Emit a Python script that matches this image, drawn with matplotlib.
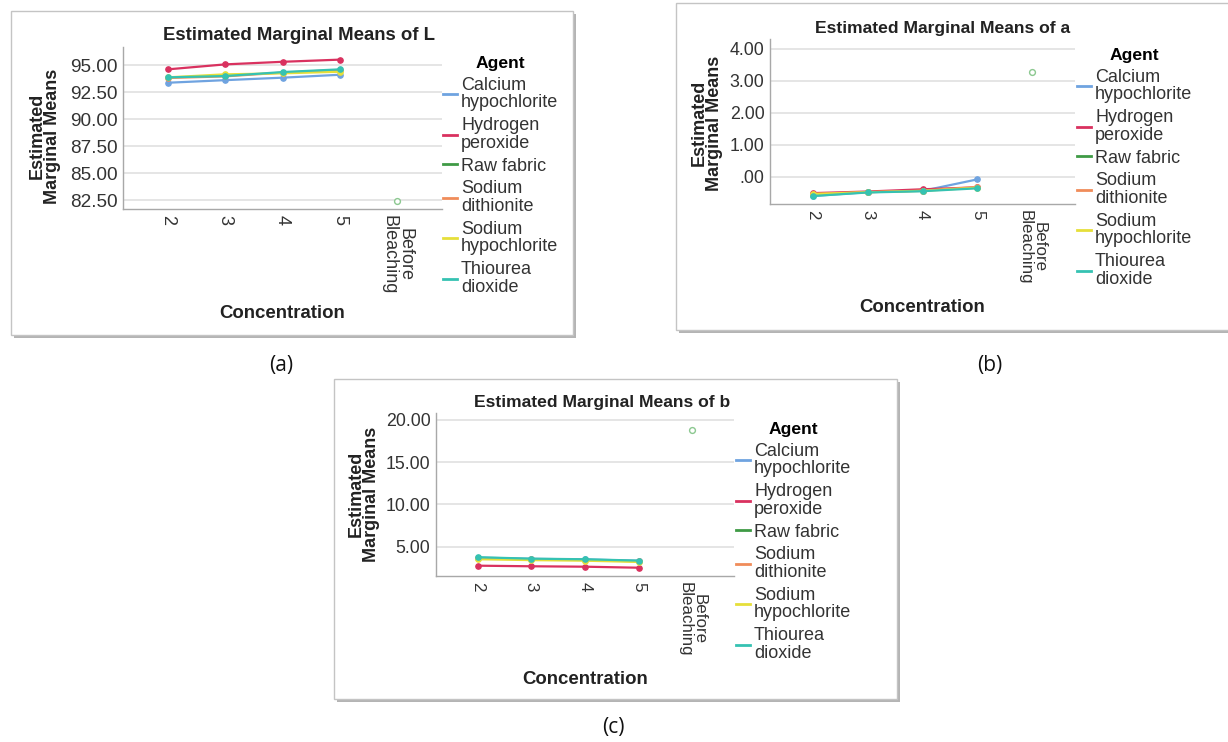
import numpy as np
import matplotlib

matplotlib.use("Agg")
import matplotlib.pyplot as plt
from matplotlib.patches import Rectangle

plt.rcParams["font.family"] = ["Liberation Sans", "DejaVu Sans"]

W, H = 1228, 742
nan = np.nan

# ── Data ─────────────────────────────────────────────────────────────────────

categories = ["2", "3", "4", "5", "Before\nBleaching"]
agents = [
    "Calcium\nhypochlorite",
    "Hydrogen\nperoxide",
    "Raw fabric",
    "Sodium\ndithionite",
    "Sodium\nhypochlorite",
    "Thiourea\ndioxide",
]
agent_colors = ["#6fa3e0", "#d9315f", "#3f9a45", "#f08c5a", "#e6df3a", "#35c2b2"]

# L*
L_calcium = [93.36, 93.60, 93.83, 94.10, nan]
L_hydrogen = [94.60, 95.06, 95.30, 95.50, nan]
L_raw = [nan, nan, nan, nan, 82.40]
L_dithionite = [93.80, 93.95, 94.30, 94.55, nan]
L_hypochlorite = [93.86, 94.14, 94.23, 94.38, nan]
L_thiourea = [93.86, 93.98, 94.35, 94.60, nan]

# a*
a_calcium = [-0.60, -0.48, -0.44, -0.08, nan]
a_hydrogen = [-0.51, -0.46, -0.39, -0.33, nan]
a_raw = [nan, nan, nan, nan, 3.28]
a_dithionite = [-0.53, -0.48, -0.43, -0.32, nan]
a_hypochlorite = [-0.54, -0.48, -0.44, -0.34, nan]
a_thiourea = [-0.60, -0.49, -0.45, -0.36, nan]

# b*
b_calcium = [3.70, 3.55, 3.48, 3.32, nan]
b_hydrogen = [2.74, 2.67, 2.62, 2.50, nan]
b_raw = [nan, nan, nan, nan, 18.78]
b_dithionite = [3.60, 3.50, 3.42, 3.25, nan]
b_hypochlorite = [3.50, 3.40, 3.33, 3.18, nan]
b_thiourea = [3.74, 3.57, 3.50, 3.34, nan]

L_ticks = [82.5, 85.0, 87.5, 90.0, 92.5, 95.0]
L_ticklabels = ["82.50", "85.00", "87.50", "90.00", "92.50", "95.00"]
a_ticks = [0, 1, 2, 3, 4]
a_ticklabels = [".00", "1.00", "2.00", "3.00", "4.00"]
b_ticks = [5, 10, 15, 20]
b_ticklabels = ["5.00", "10.00", "15.00", "20.00"]


# ── Helpers ──────────────────────────────────────────────────────────────────


def fx(x):
    return x / W


def fy(y):
    return 1 - y / H


def px_rect(x0, y0, x1, y1):
    return [x0 / W, 1 - y1 / H, (x1 - x0) / W, (y1 - y0) / H]


def draw_box(fig, x0, y0, x1, y1):
    shadow = Rectangle((fx(x0 + 3), fy(y1 + 3)), (x1 - x0) / W, (y1 - y0) / H,
                       transform=fig.transFigure, facecolor="#b4b4b4",
                       edgecolor="none", zorder=-3)
    box = Rectangle((fx(x0), fy(y1)), (x1 - x0) / W, (y1 - y0) / H,
                    transform=fig.transFigure, facecolor="white",
                    edgecolor="#c4c4c4", linewidth=1.0, zorder=-2)
    fig.add_artist(shadow)
    fig.add_artist(box)


def draw_panel(fig, p):
    s = p["fs"]
    ax = fig.add_axes(px_rect(*p["axes"]))
    ax.set_facecolor("none")
    x = np.arange(len(categories))
    for name, vals, col in zip(agents, p["series"], agent_colors):
        vals = np.array(vals, dtype=float)
        if name == "Raw fabric":
            ax.plot(x, vals, color=col, lw=1.6, marker="o", ms=4.2,
                    mfc="white", mec="#8cc890", mew=1.0, label=name, zorder=3)
        else:
            ax.plot(x, vals, color=col, lw=1.6, marker="o", ms=3.8,
                    mfc=col, mec=col, label=name, zorder=3)
    ax.set_xlim(-0.78, 4.78)
    ax.set_ylim(*p["ylim"])
    ax.set_xticks(x)
    ax.set_xticklabels(categories, rotation=270, ha="center", va="top",
                       fontsize=s, color="#333333", linespacing=0.95)
    ax.set_yticks(p["yticks"])
    ax.set_yticklabels(p["yticklabels"], fontsize=s * 1.05, color="#333333")
    ax.tick_params(length=0)
    ax.tick_params(axis="x", pad=4)
    ax.tick_params(axis="y", pad=4)
    ax.grid(axis="y", color="#dedede", lw=1.1)
    ax.set_axisbelow(True)
    for side in ("top", "right"):
        ax.spines[side].set_visible(False)
    for side in ("left", "bottom"):
        ax.spines[side].set_color("#a8a8a8")
        ax.spines[side].set_linewidth(1.0)

    tx, ty = p["title"]
    fig.text(fx(tx), fy(ty), p["title_text"], ha="center", va="center",
             fontsize=p["title_fs"], fontweight="bold", color="#222222")
    lx, ly = p["xlabel"]
    fig.text(fx(lx), fy(ly), "Concentration", ha="center", va="center",
             fontsize=13.4, fontweight="bold", color="#222222")
    yx, yy = p["ylabel"]
    fig.text(fx(yx), fy(yy), "Estimated\nMarginal Means", ha="center",
             va="center", rotation=90, fontsize=13.0, fontweight="bold",
             color="#222222", linespacing=0.92)

    gx, gy = p["legend"]
    leg = ax.legend(loc="upper left", bbox_to_anchor=(fx(gx), fy(gy)),
                    bbox_transform=fig.transFigure, frameon=False,
                    fontsize=13.0, title="Agent",
                    title_fontproperties={"weight": "bold", "size": 12.6},
                    handlelength=0.8, handletextpad=0.2, labelspacing=0.32,
                    borderpad=0, borderaxespad=0, labelcolor="#333333")
    for h in leg.legend_handles:
        h.set_marker("")
        h.set_linewidth(2.0)
    for t in leg.get_texts():
        t.set_linespacing(1.05)
    return ax


# ── Figure ───────────────────────────────────────────────────────────────────

fig = plt.figure(figsize=(W / 100, H / 100), dpi=100)

panels = [
    dict(box=(11, 11, 573, 335), axes=(123, 47, 442, 209), ylim=(81.67, 96.67),
         yticks=L_ticks, yticklabels=L_ticklabels, fs=13.0, title_fs=13.4,
         series=[L_calcium, L_hydrogen, L_raw, L_dithionite, L_hypochlorite, L_thiourea],
         title_text="Estimated Marginal Means of L", title=(299, 36),
         xlabel=(282, 313), ylabel=(45, 136), legend=(443, 56)),
    dict(box=(676, 3, 1240, 330), axes=(770, 39, 1075, 204), ylim=(-0.85, 4.31),
         yticks=a_ticks, yticklabels=a_ticklabels, fs=12.2, title_fs=12.6,
         series=[a_calcium, a_hydrogen, a_raw, a_dithionite, a_hypochlorite, a_thiourea],
         title_text="Estimated Marginal Means of a", title=(943, 28),
         xlabel=(922, 308), ylabel=(707, 123), legend=(1077, 48)),
    dict(box=(334, 379, 897, 699), axes=(436, 413, 734, 576), ylim=(1.52, 20.8),
         yticks=b_ticks, yticklabels=b_ticklabels, fs=12.2, title_fs=12.6,
         series=[b_calcium, b_hydrogen, b_raw, b_dithionite, b_hypochlorite, b_thiourea],
         title_text="Estimated Marginal Means of b", title=(602, 402),
         xlabel=(585, 680), ylabel=(364, 494), legend=(736, 422)),
]

for p in panels:
    draw_box(fig, *p["box"])
    draw_panel(fig, p)

for lab, (x, y) in zip(["(a)", "(b)", "(c)"], [(281, 365), (990, 365), (613, 728)]):
    fig.text(fx(x), fy(y), lab, ha="center", va="center", fontsize=15,
             family=["Open Sans", "DejaVu Sans"], color="#111111")

fig.savefig("out.png", dpi=100)
